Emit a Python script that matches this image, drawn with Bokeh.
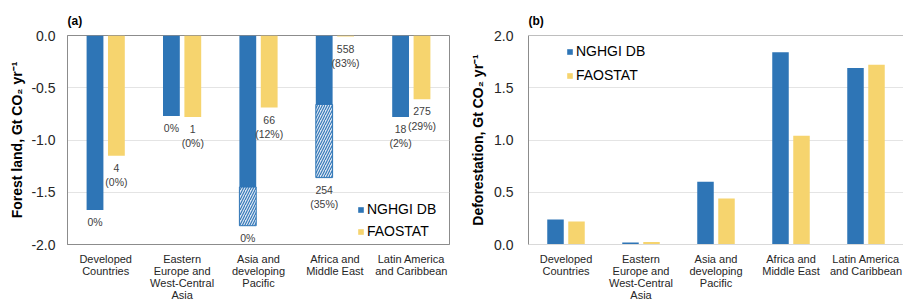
from bokeh.plotting import figure
from bokeh.models import (ColumnDataSource, FactorRange, Range1d, FixedTicker, Legend,
                          LegendItem, Span, NumeralTickFormatter)
from bokeh.transform import dodge
from bokeh.layouts import row
from bokeh.embed import file_html
from bokeh.resources import INLINE
from bokeh.core.properties import value

# ---------------- data ----------------
regions = ["Developed\nCountries", "Eastern\nEurope and\nWest-Central\nAsia",
           "Asia and\ndeveloping\nPacific", "Africa and\nMiddle East",
           "Latin America\nand Caribbean"]

# (a) forest land (Gt CO2 / yr)
forest_nghgi = [-1.67, -0.77, -1.82, -1.36, -0.78]          # total NGHGI bar
forest_nghgi_solid = [-1.67, -0.77, -1.45, -0.66, -0.78]    # end of solid part (rest hatched)
forest_fao = [-1.15, -0.78, -0.69, -0.01, -0.61]
nghgi_notes = ["0%", "0%", "0%", "254\n(35%)", "18\n(2%)"]
fao_notes = ["4\n(0%)", "1\n(0%)", "66\n(12%)", "558\n(83%)", "275\n(29%)"]

# (b) deforestation (Gt CO2 / yr)
defor_nghgi = [0.24, 0.02, 0.60, 1.84, 1.69]
defor_fao = [0.22, 0.025, 0.44, 1.04, 1.72]

forest_ticks = [-2.0, -1.5, -1.0, -0.5, 0.0]
defor_ticks = [0.0, 0.5, 1.0, 1.5, 2.0]
series_names = ["NGHGI DB", "FAOSTAT"]
ylabel_a = "Forest land, Gt CO\u2082 yr\u207b\u00b9"
ylabel_b = "Deforestation, Gt CO\u2082 yr\u207b\u00b9"

# ---------------- style ----------------
BLUE = "#2E75B6"
YELLOW = "#F6D46E"
HATCH_BG = "#DCE6F2"
FONT = "Liberation Sans"
AXIS_GRAY = "#8C8C8C"
GRID = "#E4E4E4"
TXT = "#262626"
OFF = 0.14
BW = 0.22
H = 303


def style_common(p, ticks, standoff, label, label_standoff):
    p.xgrid.grid_line_color = None
    p.ygrid.grid_line_color = GRID
    for ax in (p.xaxis, p.yaxis):
        ax.major_tick_line_color = None
        ax.minor_tick_line_color = None
        ax.major_tick_out = 0
        ax.minor_tick_out = 0
        ax.major_tick_in = 0
        ax.minor_tick_in = 0
    p.xaxis.major_label_text_font = FONT
    p.xaxis.major_label_text_font_size = "11px"
    p.xaxis.major_label_text_color = TXT
    p.xaxis.major_label_text_line_height = 1.0
    p.xaxis.major_label_standoff = 8
    p.yaxis.ticker = FixedTicker(ticks=ticks)
    p.yaxis.formatter = NumeralTickFormatter(format="0.0")
    p.yaxis.major_label_text_font = FONT
    p.yaxis.major_label_text_font_size = "14px"
    p.yaxis.major_label_text_color = TXT
    p.yaxis.major_label_standoff = standoff
    p.yaxis.axis_line_color = AXIS_GRAY
    p.yaxis.axis_label = label
    p.yaxis.axis_label_text_font = FONT
    p.yaxis.axis_label_text_font_size = "14px"
    p.yaxis.axis_label_text_font_style = "bold"
    p.yaxis.axis_label_text_color = "#000000"
    p.yaxis.axis_label_standoff = label_standoff
    p.title.text_font = FONT
    p.title.text_font_size = "12px"
    p.title.text_font_style = "bold"
    p.title.text_color = "#000000"
    p.title.align = "left"
    p.title.standoff = 16


# ---------------- panel (a) ----------------
src_a = ColumnDataSource(dict(region=regions, nghgi=forest_nghgi, solid=forest_nghgi_solid,
                              fao=forest_fao, nnote=nghgi_notes, fnote=fao_notes))
hatched = [i for i in range(len(regions)) if forest_nghgi[i] < forest_nghgi_solid[i]]
src_h = ColumnDataSource(dict(region=[regions[i] for i in hatched],
                              top=[forest_nghgi_solid[i] for i in hatched],
                              bottom=[forest_nghgi[i] for i in hatched]))

pa = figure(x_range=FactorRange(factors=regions), y_range=Range1d(-2.0, 0.0),
            width=452, height=H, output_backend="svg", toolbar_location=None,
            min_border_left=67, min_border_right=3, min_border_top=35, min_border_bottom=58,
            title="(a)")
style_common(pa, forest_ticks, 12, ylabel_a, 3)
pa.outline_line_color = AXIS_GRAY
pa.xaxis.axis_line_color = AXIS_GRAY

rb = pa.vbar(x=dodge("region", -OFF, range=pa.x_range), top=0, bottom="solid", width=BW,
             source=src_a, fill_color=BLUE, line_color=None)
pa.vbar(x=dodge("region", -OFF, range=pa.x_range), top="top", bottom="bottom", width=BW,
        source=src_h, fill_color=HATCH_BG, line_color=BLUE, line_width=1,
        hatch_pattern="/", hatch_color=BLUE, hatch_scale=5, hatch_weight=1.1)
ry = pa.vbar(x=dodge("region", OFF, range=pa.x_range), top=0, bottom="fao", width=BW,
             source=src_a, fill_color=YELLOW, line_color=None)

txt = dict(text_align="center", text_baseline="top", y_offset=6, text_font=value(FONT),
           text_font_size="10.5px", text_color="#404040", text_line_height=1.2)
pa.text(x=dodge("region", -OFF, range=pa.x_range), y="nghgi", text="nnote", source=src_a, **txt)
pa.text(x=dodge("region", OFF, range=pa.x_range), y="fao", text="fnote", source=src_a, **txt)

leg_a = Legend(items=[LegendItem(label=series_names[0], renderers=[rb]),
                      LegendItem(label=series_names[1], renderers=[ry])],
               location=(290, 5), padding=0, spacing=6, margin=0,
               glyph_width=7, glyph_height=7, label_height=16, label_standoff=3,
               label_text_font=FONT, label_text_font_size="14px", label_text_color="#000000",
               border_line_color=None, background_fill_alpha=0)
pa.add_layout(leg_a)

# ---------------- panel (b) ----------------
src_b = ColumnDataSource(dict(region=regions, nghgi=defor_nghgi, fao=defor_fao))
pb = figure(x_range=FactorRange(factors=regions), y_range=Range1d(0.0, 2.0),
            width=451, height=H, output_backend="svg", toolbar_location=None,
            min_border_left=76, min_border_right=0, min_border_top=35, min_border_bottom=58,
            title="(b)")
style_common(pb, defor_ticks, 15, ylabel_b, 5)
pb.outline_line_color = None
pb.xaxis.axis_line_color = "#D9D9D9"

rb2 = pb.vbar(x=dodge("region", -OFF, range=pb.x_range), top="nghgi", width=BW, source=src_b,
              fill_color=BLUE, line_color=None)
ry2 = pb.vbar(x=dodge("region", OFF, range=pb.x_range), top="fao", width=BW, source=src_b,
              fill_color=YELLOW, line_color=None)
pb.add_layout(Span(location=2.0, dimension="width", line_color="#7F7F7F", line_width=1))

leg_b = Legend(items=[LegendItem(label=series_names[0], renderers=[rb2]),
                      LegendItem(label=series_names[1], renderers=[ry2])],
               location=(38, 161), padding=8, spacing=8, margin=0,
               glyph_width=7, glyph_height=7, label_height=16, label_standoff=3,
               label_text_font=FONT, label_text_font_size="14px", label_text_color="#000000",
               border_line_color=None, background_fill_color="white", background_fill_alpha=1)
pb.add_layout(leg_b)

layout = row(pa, pb, spacing=0)
open("out.html", "w").write(file_html(layout, INLINE))
